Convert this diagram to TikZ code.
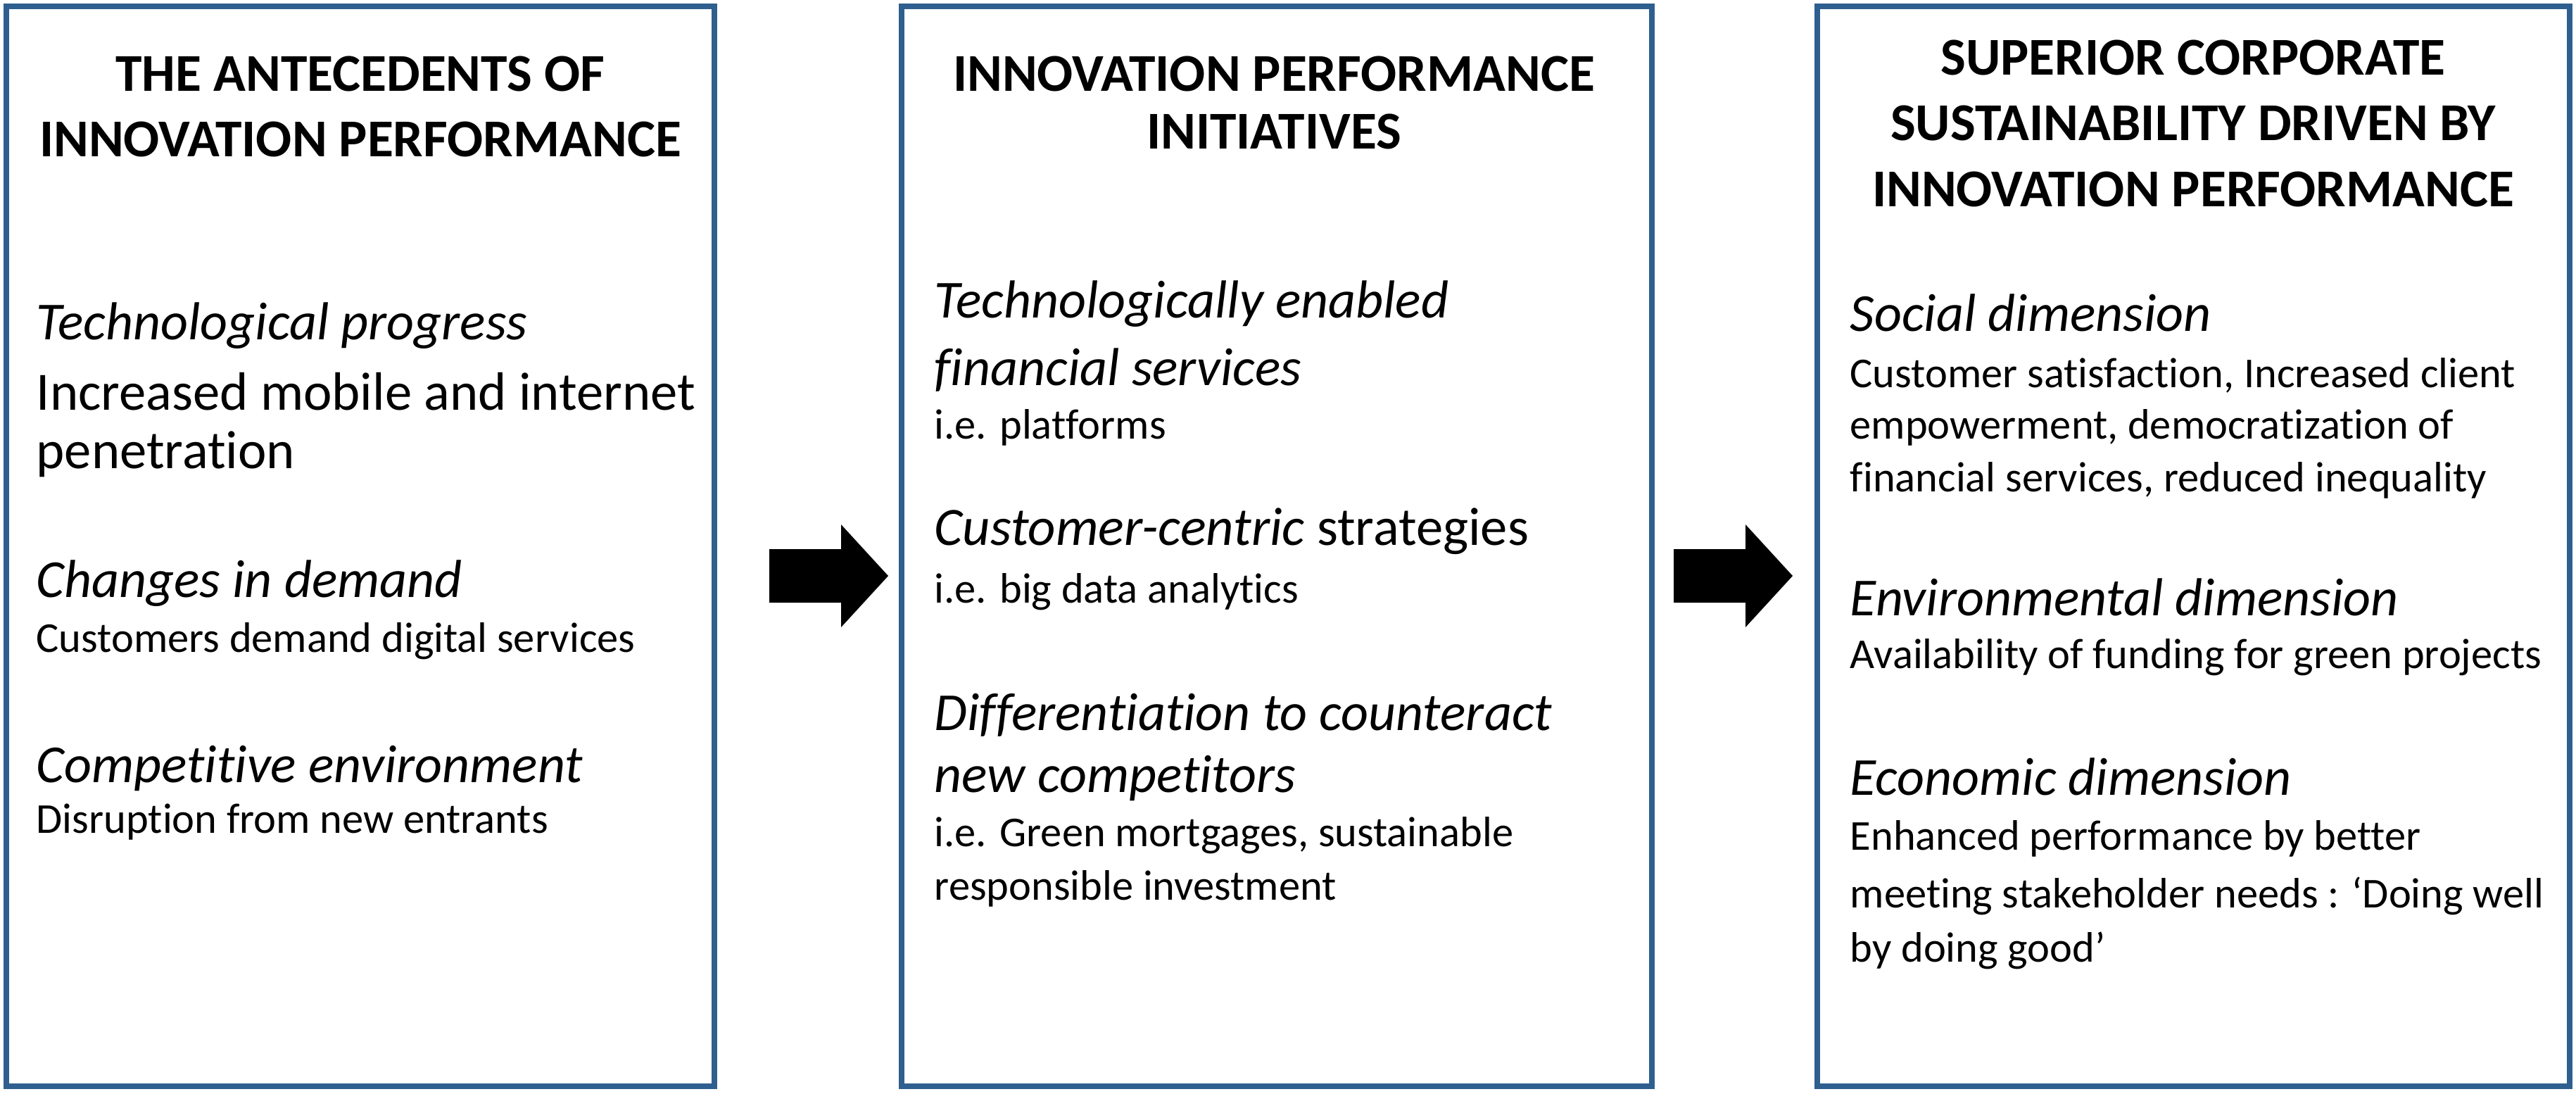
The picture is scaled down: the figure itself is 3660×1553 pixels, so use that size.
\documentclass[tikz,border=0pt]{standalone}
\usepackage{fontspec}
\setmainfont[RawFeature={-liga;-dlig;-clig}]{Carlito}
\begin{document}
\begin{tikzpicture}[x=0.01cm,y=-0.01cm,
  box/.style={draw=boxc,line width=2.2pt},
  hd/.style={font=\fontsize{21.5}{24}\selectfont\bfseries,anchor=center,inner sep=0},
  it/.style={font=\fontsize{21.6}{24}\selectfont\itshape,anchor=west,inner sep=0},
  bg/.style={font=\fontsize{21.8}{24}\selectfont,anchor=west,inner sep=0},
  sm/.style={font=\fontsize{17.2}{19}\selectfont,anchor=west,inner sep=0},
  blk/.style={fill=black}]
\definecolor{boxc}{HTML}{2F5F8F}
\useasboundingbox (0,0) rectangle (3660,1553);
\draw[box] (9,9) rectangle (1015,1543);
\draw[box] (1281,9) rectangle (2347,1543);
\draw[box] (2582,9) rectangle (3651,1543);
% arrows
\fill[blk] (1093,780) -- (1195,780) -- (1195,745) -- (1262,818) -- (1195,891) -- (1195,856) -- (1093,856) -- cycle;
\fill[blk] (2378,780) -- (2480,780) -- (2480,745) -- (2547,818) -- (2480,891) -- (2480,856) -- (2378,856) -- cycle;
% box 1
\node[hd] (h1a) at (512,105) {THE ANTECEDENTS OF};
\node[hd] (h1b) at (512,198) {INNOVATION PERFORMANCE};
\node[it] (a1) at (51,463) {Technological progress};
\node[bg] (a2) at (51,556) {Increased mobile and internet};
\node[bg] (a3) at (51,645) {penetration};
\node[it] (a4) at (51,829) {Changes in demand};
\node[sm] (a5) at (51,911) {Customers demand digital services};
\node[it] (a6) at (51,1091) {Competitive environment};
\node[sm] (a7) at (51,1168) {Disruption from new entrants};
% box 2
\node[hd] (h2a) at (1810,105) {INNOVATION PERFORMANCE};
\node[hd] (h2b) at (1810,187) {INITIATIVES};
\node[it] (b1) at (1327,432) {Technologically enabled};
\node[it] (b2) at (1327,526) {financial services};
\node[sm] (b3) at (1327,607) {i.e. platforms};
\node[bg] (b4) at (1327,755) {\textit{Customer-centric} strategies};
\node[sm] (b5) at (1327,841) {i.e. big data analytics};
\node[it] (b6) at (1327,1016) {Differentiation to counteract};
\node[it] (b7) at (1327,1105) {new competitors};
\node[sm] (b8) at (1327,1187) {i.e. Green mortgages, sustainable};
\node[sm] (b9) at (1327,1262) {responsible investment};
% box 3
\node[hd] (h3a) at (3116,82) {SUPERIOR CORPORATE};
\node[hd] (h3b) at (3116,175) {SUSTAINABILITY DRIVEN BY};
\node[hd] (h3c) at (3116,269) {INNOVATION PERFORMANCE};
\node[it] (c1) at (2628,444) {Social dimension};
\node[sm] (c2) at (2628,533) {Customer satisfaction, Increased client};
\node[sm] (c3) at (2628,607) {empowerment, democratization of};
\node[sm] (c4) at (2628,682) {financial services, reduced inequality};
\node[it] (c5) at (2628,848) {Environmental dimension};
\node[sm] (c6) at (2628,934) {Availability of funding for green projects};
\node[it] (c7) at (2628,1103) {Economic dimension};
\node[sm] (c8) at (2628,1191) {Enhanced performance by better};
\node[sm] (c9) at (2628,1273) {meeting stakeholder needs : ‘Doing well};
\node[sm] (c10) at (2628,1350) {by doing good’};
\end{tikzpicture}
\end{document}
